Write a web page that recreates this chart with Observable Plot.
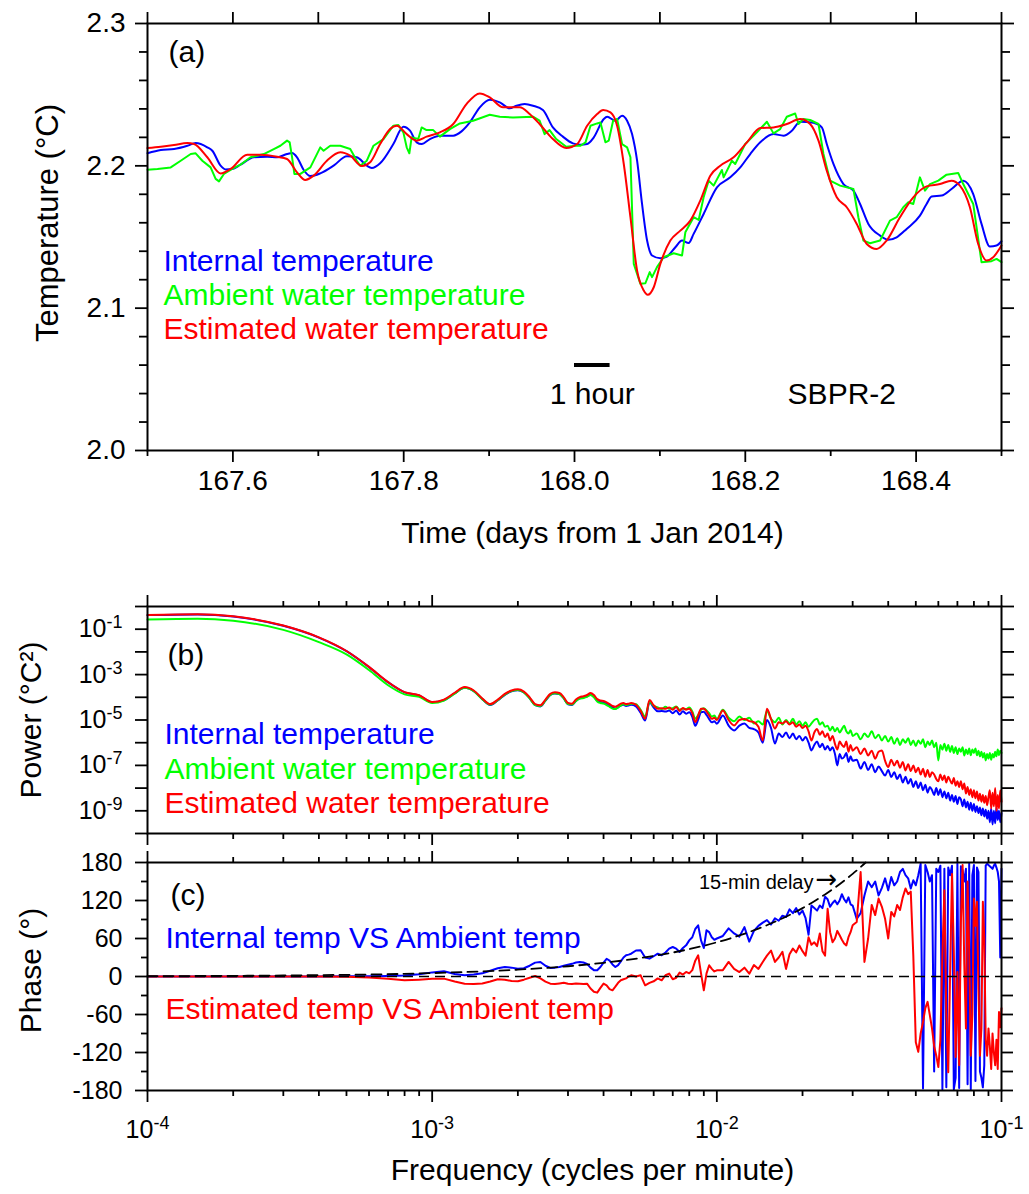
<!DOCTYPE html>
<html><head><meta charset="utf-8">
<script src="https://cdn.jsdelivr.net/npm/d3@7"></script>
<script src="https://cdn.jsdelivr.net/npm/@observablehq/plot@0.6"></script>
<style>
html,body{margin:0;padding:0;background:#fff;}
#wrap{position:relative;width:1029px;height:1194px;overflow:hidden;background:#fff;}
</style></head><body><div id="wrap"></div>
<script>
// ---------------- Panel (a): time series [day, °C] ----------------
const internalTemp = [
[167.500,2.2088],[167.5156,2.2111],[167.5311,2.2118],[167.5467,2.2141],[167.5564,2.2160],[167.5700,2.2130],
[167.5759,2.2106],[167.5856,2.2001],[167.5914,2.1975],[167.5992,2.1978],[167.6089,2.2008],[167.6245,2.2060],
[167.6401,2.2064],[167.6518,2.2060],[167.6634,2.2083],[167.6693,2.2090],[167.6751,2.2060],[167.6829,2.1971],
[167.6907,2.1928],[167.7023,2.1947],[167.7179,2.2001],[167.7335,2.2067],[167.7451,2.2060],[167.7568,2.2001],
[167.7626,2.1985],[167.7724,2.2018],[167.7879,2.2153],[167.7996,2.2275],[167.8074,2.2247],[167.8152,2.2165],
[167.8210,2.2153],[167.8307,2.2188],[167.8424,2.2212],[167.8580,2.2212],[167.8677,2.2242],[167.8774,2.2305],
[167.8891,2.2411],[167.9008,2.2464],[167.9125,2.2446],[167.9241,2.2404],[167.9319,2.2422],[167.9416,2.2434],
[167.9514,2.2422],[167.9630,2.2392],[167.9747,2.2270],[167.9864,2.2205],[167.9981,2.2158],
[168.0070,2.2149],[168.0148,2.2153],[168.0226,2.2200],[168.0343,2.2329],[168.0382,2.2345],[168.0479,2.2317],
[168.0557,2.2352],[168.0616,2.2317],[168.0674,2.2223],[168.0733,2.2036],[168.0791,2.1732],[168.0850,2.1475],
[168.0908,2.1370],[168.1005,2.1351],[168.1083,2.1363],[168.1181,2.1428],[168.1259,2.1475],[168.1337,2.1458],
[168.1395,2.1522],[168.1512,2.1662],[168.1668,2.1849],[168.1824,2.1919],[168.1941,2.1989],[168.2058,2.2083],
[168.2175,2.2165],[168.2330,2.2223],[168.2447,2.2212],[168.2545,2.2247],[168.2642,2.2310],[168.2798,2.2303],
[168.2896,2.2270],[168.2954,2.2153],[168.3032,2.2013],[168.3149,2.1872],[168.3266,2.1826],[168.3344,2.1732],
[168.3441,2.1592],[168.3578,2.1510],[168.3675,2.1480],[168.3772,2.1498],[168.3889,2.1557],[168.4045,2.1650],
[168.4123,2.1732],[168.4182,2.1784],[168.4299,2.1791],[168.4415,2.1837],[168.4552,2.1896],[168.4669,2.1802],
[168.4766,2.1592],[168.4864,2.1433],[168.4942,2.1440],[168.5000,2.1470]
];
const ambientTemp = [
[167.500,2.1973],[167.5117,2.1978],[167.5272,2.1989],[167.5389,2.2036],[167.5506,2.2083],[167.5564,2.2088],
[167.5642,2.2036],[167.5739,2.1989],[167.5798,2.1908],[167.5837,2.1891],[167.5895,2.1943],[167.5992,2.1978],
[167.6089,2.2008],[167.6206,2.2060],[167.6362,2.2083],[167.6479,2.2118],[167.6556,2.2141],[167.6634,2.2177],
[167.6665,2.2165],[167.6693,2.2060],[167.6720,2.1943],[167.6790,2.1943],[167.6907,2.1989],[167.7023,2.2130],
[167.7062,2.2106],[167.7140,2.2141],[167.7257,2.2141],[167.7374,2.2118],[167.7451,2.2036],[167.7490,2.2001],
[167.7568,2.2036],[167.7646,2.2141],[167.7763,2.2188],[167.7879,2.2282],[167.7938,2.2287],[167.7996,2.2235],
[167.8035,2.2130],[167.8066,2.2088],[167.8093,2.2200],[167.8171,2.2188],[167.8210,2.2270],[167.8268,2.2251],
[167.8346,2.2251],[167.8424,2.2205],[167.8463,2.2223],[167.8541,2.2258],[167.8658,2.2298],[167.8813,2.2317],
[167.9008,2.2359],[167.9125,2.2345],[167.9280,2.2340],[167.9514,2.2345],[167.9591,2.2317],[167.9650,2.2223],
[167.9708,2.2251],[167.9786,2.2188],[167.9903,2.2134],[168.0019,2.2141],
[168.0070,2.2141],[168.0129,2.2165],[168.0187,2.2282],[168.0265,2.2298],[168.0304,2.2305],[168.0362,2.2165],
[168.0401,2.2177],[168.0452,2.2317],[168.0499,2.2329],[168.0557,2.2153],[168.0616,2.2130],[168.0655,2.2060],
[168.0694,2.1311],[168.0772,2.1171],[168.0830,2.1175],[168.0881,2.1253],[168.0908,2.1218],[168.0966,2.1288],
[168.1044,2.1358],[168.1161,2.1386],[168.1259,2.1370],[168.1298,2.1533],[168.1395,2.1639],[168.1454,2.1620],
[168.1512,2.1779],[168.1571,2.1896],[168.1629,2.1861],[168.1726,2.1971],[168.1746,2.1919],[168.1843,2.2036],
[168.1882,2.2013],[168.1999,2.2153],[168.2136,2.2235],[168.2253,2.2310],[168.2330,2.2228],[168.2408,2.2258],
[168.2486,2.2345],[168.2584,2.2368],[168.2623,2.2294],[168.2681,2.2329],[168.2759,2.2322],[168.2857,2.2294],
[168.2915,2.2083],[168.2993,2.1896],[168.3110,2.1861],[168.3266,2.1837],[168.3324,2.1639],[168.3383,2.1475],
[168.3461,2.1456],[168.3578,2.1475],[168.3694,2.1615],[168.3772,2.1639],[168.3850,2.1709],[168.3909,2.1744],
[168.3967,2.1732],[168.4045,2.1919],[168.4104,2.1826],[168.4162,2.1872],[168.4260,2.1896],[168.4357,2.1938],
[168.4493,2.1950],[168.4552,2.1872],[168.4669,2.1732],[168.4766,2.1323],[168.4883,2.1330],[168.4942,2.1346],
[168.5000,2.1323]
];
const estimatedTemp = [
[167.500,2.2125],[167.5156,2.2134],[167.5311,2.2146],[167.5467,2.2160],[167.5545,2.2153],[167.5700,2.2060],
[167.5856,2.1947],[167.5973,2.1978],[167.6167,2.2078],[167.6323,2.2078],[167.6518,2.2064],[167.6634,2.2048],
[167.6751,2.1954],[167.6848,2.1901],[167.6946,2.1931],[167.7101,2.2036],[167.7257,2.2095],[167.7374,2.2071],
[167.7510,2.1999],[167.7607,2.2025],[167.7724,2.2153],[167.7840,2.2258],[167.7918,2.2282],[167.8035,2.2223],
[167.8152,2.2177],[167.8268,2.2205],[167.8424,2.2235],[167.8580,2.2294],[167.8735,2.2434],[167.8891,2.2509],
[167.9008,2.2481],[167.9163,2.2411],[167.9358,2.2411],[167.9475,2.2364],[167.9591,2.2294],[167.9747,2.2188],
[167.9903,2.2125],
[168.0031,2.2153],[168.0148,2.2282],[168.0265,2.2364],[168.0335,2.2392],[168.0421,2.2375],[168.0499,2.2282],
[168.0577,2.2013],[168.0655,2.1639],[168.0733,2.1264],[168.0811,2.1124],[168.0857,2.1094],[168.0928,2.1147],
[168.1005,2.1311],[168.1122,2.1475],[168.1239,2.1545],[168.1356,2.1615],[168.1473,2.1756],[168.1590,2.1931],
[168.1707,2.2001],[168.1863,2.2060],[168.2019,2.2165],[168.2175,2.2265],[168.2330,2.2270],[168.2486,2.2294],
[168.2642,2.2329],[168.2759,2.2294],[168.2857,2.2177],[168.2954,2.1966],[168.3071,2.1779],[168.3188,2.1709],
[168.3305,2.1592],[168.3422,2.1451],[168.3539,2.1416],[168.3655,2.1475],[168.3811,2.1639],[168.3967,2.1779],
[168.4123,2.1856],[168.4279,2.1872],[168.4415,2.1896],[168.4513,2.1861],[168.4630,2.1709],[168.4727,2.1451],
[168.4825,2.1335],[168.4903,2.1358],[168.5000,2.1440]
];
const tempMajorTicks = [2.0, 2.1, 2.2, 2.3];
const tempMinorTicks = [2.02,2.04,2.06,2.08,2.12,2.14,2.16,2.18,2.22,2.24,2.26,2.28];
const timeMajorTicks = [167.6, 167.8, 168.0, 168.2, 168.4];
const timeMinorTicks = [167.5, 167.7, 167.9, 168.1, 168.3, 168.5];

// ---------------- Panels (b) and (c): spectra on a shared frequency grid (cycles per minute) -------------
const freq = [
0.0001,0.00015,0.0002,0.0003,0.0004,0.0005,0.0006,0.0007,0.0008,0.0009,0.001,
0.0011,0.0012,0.0013,0.0014,0.0015,0.0016,0.0017,0.0018,0.0019,0.0020,
0.0021,0.0022,0.0023,0.0024,0.0025,0.0026,0.0027,0.0028,0.0029,0.0030,
0.0031,0.0032,0.0033,0.0034,0.0035,0.0036,0.0037,0.0038,0.0039,0.0040,
0.0041,0.0042,0.0043,0.0044,0.0045,0.0046,0.0047,0.0048,0.0049,0.0050,
0.0052,0.0054,0.0056,0.0058,0.0060,0.0062,0.0064,0.0066,0.0068,0.0070,
0.0072,0.0074,0.0076,0.0078,0.0080,0.0082,0.0084,0.0086,0.0088,0.0090,
0.0092,0.0094,0.0096,0.0098,0.0100,
0.0105,0.0110,0.0115,0.0120,0.0125,0.0130,0.0135,0.0140,0.0145,0.0150,
0.0155,0.0160,0.0165,0.0170,0.0175,0.0180,0.0185,0.0190,0.0195,0.0200,
0.0205,0.0210,0.0215,0.0220,0.0225,0.0230,0.0235,0.0240,0.0245,0.0250,
0.0255,0.0260,0.0265,0.0270,0.0275,0.0280,0.0285,0.0290,0.0295,0.0300,
0.031,0.032,0.033,0.034,0.035,0.036,0.037,0.038,0.039,0.040,
0.041,0.042,0.043,0.044,0.045,0.046,0.047,0.048,0.049,0.050,
0.051,0.052,0.053,0.054,0.055,0.056,0.057,0.058,0.059,0.060,
0.061,0.062,0.063,0.064,0.065,0.066,0.067,0.068,0.069,0.070,
0.071,0.072,0.073,0.074,0.075,0.076,0.077,0.078,0.079,0.080,
0.081,0.082,0.083,0.084,0.085,0.086,0.087,0.088,0.089,0.090,
0.091,0.092,0.093,0.094,0.095,0.096,0.097,0.098,0.099,0.100
];
// power spectra, stored as log10(°C²)
const log10PowerInternal = [
-0.38,-0.35,-0.44,-0.85,-1.37,-1.97,-2.67,-3.34,-3.78,-3.92,-4.22,
-4.13,-3.83,-3.58,-3.73,-4.08,-4.34,-4.14,-3.89,-3.74,-3.69,
-3.79,-4.04,-4.34,-4.40,-4.15,-3.90,-3.83,-3.86,-4.05,-4.31,
-4.34,-4.16,-4.05,-4.01,-3.96,-3.88,-3.97,-4.15,-4.21,-4.23,
-4.29,-4.37,-4.46,-4.50,-4.44,-4.36,-4.33,-4.38,-4.36,-4.33,
-4.40,-4.68,-5.02,-4.22,-4.45,-4.62,-4.60,-4.63,-4.58,-4.70,
-4.58,-4.76,-4.62,-4.72,-4.66,-4.86,-5.25,-4.98,-4.66,-4.64,
-4.78,-4.96,-5.10,-5.06,-5.16,
-4.80,-5.25,-5.46,-5.25,-5.15,-5.35,-5.40,-5.55,-6.00,-5.00,
-5.35,-6.04,-5.60,-5.75,-5.55,-5.80,-5.60,-5.85,-5.70,-5.90,
-5.75,-6.00,-6.34,-6.10,-5.95,-6.20,-6.05,-6.30,-6.15,-6.34,
-6.20,-6.50,-7.00,-6.50,-6.70,-6.63,-6.45,-6.85,-6.60,-6.80,
-6.75,-7.14,-6.85,-7.20,-6.95,-7.30,-7.05,-7.25,-7.45,-7.20,
-7.51,-7.30,-7.60,-7.40,-7.75,-7.50,-7.80,-7.60,-7.95,-7.70,
-8.00,-7.75,-8.10,-7.85,-8.20,-7.95,-8.09,-8.30,-8.00,-8.30,
-8.05,-8.40,-8.15,-8.45,-8.20,-8.55,-8.30,-8.60,-8.35,-8.70,
-8.40,-8.50,-8.80,-8.50,-8.85,-8.60,-8.95,-8.65,-9.00,-8.70,
-9.05,-8.80,-9.10,-8.85,-9.20,-8.90,-9.25,-8.95,-9.35,-9.00,
-9.50,-8.90,-9.60,-9.00,-9.55,-8.85,-9.40,-9.00,-9.50,-9.10
];
const log10PowerAmbient = [
-0.57,-0.54,-0.63,-1.03,-1.57,-2.11,-2.80,-3.47,-3.87,-3.98,-4.25,
-4.14,-3.84,-3.58,-3.73,-4.08,-4.32,-4.13,-3.88,-3.73,-3.68,
-3.79,-4.05,-4.34,-4.38,-4.14,-3.89,-3.82,-3.86,-4.05,-4.30,
-4.32,-4.16,-4.06,-4.03,-3.98,-3.90,-4.00,-4.18,-4.25,-4.28,
-4.34,-4.42,-4.50,-4.52,-4.45,-4.36,-4.30,-4.34,-4.32,-4.28,
-4.30,-4.55,-4.85,-4.20,-4.38,-4.45,-4.52,-4.42,-4.50,-4.48,
-4.40,-4.55,-4.50,-4.52,-4.45,-4.62,-4.95,-4.78,-4.55,-4.48,
-4.58,-4.70,-4.85,-4.80,-4.95,
-4.55,-4.90,-5.05,-4.85,-5.00,-4.90,-5.15,-5.05,-5.20,-4.60,
-4.95,-5.10,-4.90,-5.20,-5.00,-5.15,-4.95,-5.20,-5.05,-5.25,
-5.10,-5.30,-5.15,-5.00,-4.94,-5.20,-5.10,-5.30,-5.25,-5.46,
-5.30,-5.50,-5.35,-5.55,-5.40,-5.25,-5.50,-5.60,-5.45,-5.70,
-5.60,-5.85,-5.60,-5.75,-5.50,-5.80,-5.65,-5.90,-5.70,-5.95,
-5.75,-6.05,-5.80,-6.10,-5.85,-6.00,-5.80,-6.10,-5.90,-6.15,
-5.90,-6.05,-5.85,-6.20,-5.95,-6.10,-5.90,-6.20,-6.00,-6.78,
-6.10,-6.30,-6.05,-6.35,-6.10,-6.40,-6.15,-6.45,-6.20,-6.50,
-6.25,-6.40,-6.20,-6.56,-6.30,-6.50,-6.25,-6.55,-6.30,-6.45,
-6.25,-6.55,-6.35,-6.60,-6.40,-6.65,-6.45,-6.78,-6.50,-6.70,
-6.45,-6.75,-6.50,-6.65,-6.40,-6.60,-6.30,-6.55,-6.35,-6.45
];
const log10PowerEstimated = [
-0.37,-0.34,-0.43,-0.84,-1.36,-1.96,-2.66,-3.33,-3.77,-3.91,-4.21,
-4.10,-3.80,-3.55,-3.70,-4.05,-4.30,-4.10,-3.85,-3.70,-3.65,
-3.75,-4.00,-4.30,-4.35,-4.10,-3.85,-3.78,-3.81,-4.00,-4.25,
-4.28,-4.10,-3.99,-3.95,-3.90,-3.81,-3.90,-4.08,-4.14,-4.16,
-4.22,-4.30,-4.38,-4.42,-4.36,-4.28,-4.25,-4.30,-4.28,-4.25,
-4.33,-4.60,-4.94,-4.12,-4.35,-4.50,-4.48,-4.50,-4.45,-4.55,
-4.43,-4.60,-4.47,-4.55,-4.50,-4.70,-5.09,-4.80,-4.50,-4.50,
-4.62,-4.80,-4.95,-4.90,-5.00,
-4.58,-5.00,-5.24,-5.00,-4.96,-5.05,-5.10,-5.30,-5.90,-4.50,
-4.95,-5.38,-5.10,-5.15,-5.05,-5.20,-5.10,-5.30,-5.20,-5.35,
-5.25,-5.50,-5.90,-5.55,-5.40,-5.65,-5.50,-5.75,-5.60,-5.90,
-5.70,-6.05,-6.30,-5.95,-6.10,-6.19,-5.95,-6.40,-6.10,-6.35,
-6.20,-6.50,-6.25,-6.56,-6.35,-6.70,-6.40,-6.34,-6.80,-7.07,
-6.75,-7.00,-6.80,-7.10,-6.85,-7.22,-6.95,-7.25,-7.00,-7.30,
-7.10,-7.40,-7.15,-7.50,-7.20,-7.51,-7.30,-7.40,-7.60,-7.70,
-7.40,-7.65,-7.45,-7.75,-7.50,-7.66,-7.80,-7.55,-7.90,-7.70,
-7.95,-7.70,-8.05,-7.80,-8.24,-7.95,-8.30,-8.05,-8.40,-8.10,
-8.45,-8.15,-8.55,-8.25,-8.60,-8.30,-8.65,-8.35,-8.75,-8.40,
-8.10,-8.90,-8.20,-8.80,-8.00,-9.00,-8.30,-8.90,-8.10,-8.60
];
// phase (degrees)
const phaseInternal = [
0,0,0,0,0,0.2,0.5,0.8,1.5,3.5,6.5,
8.2,4,1.9,3,5,9,13,15,14,12.4,
13,17,21.9,23,17,13.5,14,15,17,18.7,
20,22,23,22,20,14,10,9.8,15,22,
28,25,19,15,18,24,30,33.5,34.5,36,
41,41.3,30,28.2,32,36,33.5,38,44,46.6,
44,38.7,45,49.2,57,62,75,80.7,57,45,
73,70,62,58,60,
64,76,68,63,78,55,72,80,85,89,
82,92,88,96,94,106,100,108,98,104,
92,66,112,108,104,112,108,126,122,110,
116,120,114,120,130,122,117,125,114,112,
91,100,128,150,141,150,128,140,155,136,
157,144,150,165,170,160,155,139,152,144,
160,178,-177,176,165,150,160,-150,170,165,
175,-178,170,-175,172,160,175,-178,-160,178,
-176,174,168,150,170,-170,178,-178,160,176,
-165,172,165,-150,-160,-175,-140,175,178,176,
174,172,170,175,178,172,165,150,30,170
];
const phaseEstimated = [
0,0,0,0,0,-0.5,-1.5,-3.5,-6,-5,-3.7,
-3.4,-8,-11.3,-12,-11,-8,-4.4,-5,-7,-7.6,
-5,-2,0.8,-3,-8,-11.3,-12,-11,-10,-11.3,
-12,-11,-11.3,-12,-11.3,-19,-24,-25.5,-18,-11.3,
-14,-20,-21.8,-16,-10,-6,-4.4,-3,0,1.9,
0,1.9,-13.9,-10,-7.6,-3,-6,2,4.5,-4.4,
-2,6.1,3,7.2,5,10,25,33.5,5,-21.8,
5,17.7,12,8,9.8,
10,23,12,7,14,4.5,18,12,23,33,
41,23,30,39,12,35,44,38,49,40,
33,62,50,54,48,68,40,33,107,70,
54,60,72,65,58,52,49,62,70,81,
86,165,23,60,113,97,123,110,91,60,
102,95,113,105,125,139,130,134,33,-104,
-119,-90,-72,-50,-40,-61,-82,-110,-125,-143,
-100,33,136,-60,-151,7,162,40,-127,7,
-140,86,176,20,-82,150,40,-125,-60,123,
80,118,-20,-125,-82,118,60,-100,-125,-82,
-110,-146,-90,-120,-140,-100,-146,-56,-80,-50
];
// phase of a pure 15-minute delay, [frequency, degrees]
const delayCurve = [
[0.0001,0.54],[0.0003,1.62],[0.001,5.4],[0.002,10.8],[0.003,16.2],[0.004,21.6],[0.005,27],
[0.006,32.4],[0.007,37.8],[0.008,43.2],[0.009,48.6],[0.010,54],[0.012,64.8],[0.014,75.6],
[0.016,86.4],[0.018,97.2],[0.020,108],[0.022,118.8],[0.024,129.6],[0.026,140.4],[0.028,151.2],
[0.030,162],[0.032,172.8],[0.03333,180]
];
const freqMajorTicks = [1e-4, 1e-3, 1e-2, 1e-1];
const freqMinorTicks = [2e-4,3e-4,4e-4,5e-4,6e-4,7e-4,8e-4,9e-4,2e-3,3e-3,4e-3,5e-3,6e-3,7e-3,8e-3,9e-3,2e-2,3e-2,4e-2,5e-2,6e-2,7e-2,8e-2,9e-2];
const powerDecadeTicks = [1,1e-1,1e-2,1e-3,1e-4,1e-5,1e-6,1e-7,1e-8,1e-9,1e-10];
const phaseMajorTicks = [-180,-120,-60,0,60,120,180];
const phaseMinorTicks = [-150,-90,-30,30,90,150];

// ---------------- rendering ----------------
const BLUE = "#0000ff", GREEN = "#00ff00", RED = "#ff0000";
const FONT = "'Liberation Sans', Arial, Helvetica, sans-serif";
const none = () => "";
const sci = d => "10^" + Math.round(Math.log10(d));
const lbl = (text, o) => Plot.text([text], {frameAnchor: "top-left", textAnchor: "start", lineAnchor: "bottom", fontSize: 30, ...o});
const ytitle = (text, dx, o = {}) => Plot.text([text], {frameAnchor: "left", rotate: -90, dx, textAnchor: "middle", lineAnchor: "bottom", fontSize: 30, ...o});
const ax = (k, o) => (k === "x" ? Plot.axisX : Plot.axisY)({label: null, strokeWidth: 1.8, tickFormat: none, ...o});

const rows = vals => freq.map((f, i) => ({f, v: vals[i]}));

const plotA = Plot.plot({
  width: 1029, height: 560, marginLeft: 147, marginRight: 28, marginTop: 23, marginBottom: 110,
  style: {fontFamily: FONT, fontSize: "28px", color: "black", background: "transparent"},
  x: {domain: [167.5, 168.5]},
  y: {domain: [2.0, 2.3]},
  marks: [
    Plot.line(internalTemp, {x: d => d[0], y: d => d[1], stroke: BLUE, strokeWidth: 2, curve: "monotone-x"}),
    Plot.line(ambientTemp, {x: d => d[0], y: d => d[1], stroke: GREEN, strokeWidth: 2}),
    Plot.line(estimatedTemp, {x: d => d[0], y: d => d[1], stroke: RED, strokeWidth: 2, curve: "monotone-x"}),
    Plot.ruleY([2.06], {x1: 168.0, x2: 168.0 + 1 / 24, stroke: "black", strokeWidth: 4}),
    Plot.text(["1 hour"], {x: 168.0 + 1 / 48, y: 2.033, lineAnchor: "bottom", fontSize: 30}),
    Plot.text(["SBPR-2"], {x: 168.313, y: 2.033, lineAnchor: "bottom", fontSize: 30}),
    lbl("(a)", {dx: 21, dy: 38}),
    lbl("Internal temperature", {dx: 16, dy: 247, fill: BLUE}),
    lbl("Ambient water temperature", {dx: 16, dy: 281, fill: GREEN}),
    lbl("Estimated water temperature", {dx: 16, dy: 315, fill: RED}),
    Plot.frame({stroke: "black", strokeWidth: 2}),
    ax("y", {anchor: "left", ticks: tempMajorTicks, tickSize: 12, tickPadding: 10, tickFormat: d3.format(".1f")}),
    ax("y", {anchor: "left", ticks: tempMinorTicks, tickSize: 8}),
    ax("y", {anchor: "right", ticks: tempMajorTicks, tickSize: 12}),
    ax("y", {anchor: "right", ticks: tempMinorTicks, tickSize: 8}),
    ax("x", {anchor: "bottom", ticks: timeMajorTicks, tickSize: 12, tickPadding: 8, tickFormat: d3.format(".1f")}),
    ax("x", {anchor: "bottom", ticks: timeMinorTicks, tickSize: 6}),
    ax("x", {anchor: "top", ticks: timeMajorTicks.concat(timeMinorTicks), tickSize: 12}),
    ytitle("Temperature (°C)", -90, {dy: -14, fontSize: 31}),
    Plot.text(["Time (days from 1 Jan 2014)"], {frameAnchor: "bottom", dx: 18, dy: 92, lineAnchor: "bottom", fontSize: 30})
  ]
});

const plotB = Plot.plot({
  width: 1029, height: 290, marginLeft: 147, marginRight: 28, marginTop: 46, marginBottom: 17,
  style: {fontFamily: FONT, fontSize: "25px", color: "black", background: "transparent"},
  x: {type: "log", domain: [1e-4, 1e-1]},
  y: {type: "log", domain: [1e-10, 1]},
  marks: [
    Plot.line(rows(log10PowerInternal), {x: "f", y: d => 10 ** d.v, stroke: BLUE, strokeWidth: 2, curve: "monotone-x"}),
    Plot.line(rows(log10PowerAmbient), {x: "f", y: d => 10 ** d.v, stroke: GREEN, strokeWidth: 2, curve: "monotone-x"}),
    Plot.line(rows(log10PowerEstimated), {x: "f", y: d => 10 ** d.v, stroke: RED, strokeWidth: 2, curve: "monotone-x"}),
    lbl("(b)", {dx: 20, dy: 58}),
    lbl("Internal temperature", {dx: 17, dy: 137, fill: BLUE}),
    lbl("Ambient water temperature", {dx: 17, dy: 172, fill: GREEN}),
    lbl("Estimated water temperature", {dx: 17, dy: 206, fill: RED}),
    Plot.frame({stroke: "black", strokeWidth: 2}),
    ax("y", {anchor: "left", ticks: powerDecadeTicks, tickSize: 12, tickPadding: 13,
      tickFormat: d => (Math.round(Math.log10(d)) % 2 ? sci(d) : "")}),
    ax("y", {anchor: "right", ticks: powerDecadeTicks, tickSize: 12}),
    ax("x", {anchor: "top", ticks: freqMajorTicks, tickSize: 12}),
    ax("x", {anchor: "top", ticks: freqMinorTicks, tickSize: 6}),
    ax("x", {anchor: "bottom", ticks: freqMajorTicks, tickSize: 12}),
    ax("x", {anchor: "bottom", ticks: freqMinorTicks, tickSize: 6}),
    ytitle("Power (°C²)", -107)
  ]
});

const plotC = Plot.plot({
  width: 1029, height: 344, marginLeft: 147, marginRight: 28, marginTop: 12, marginBottom: 104,
  style: {fontFamily: FONT, fontSize: "25px", color: "black", background: "transparent"},
  x: {type: "log", domain: [1e-4, 1e-1]},
  y: {domain: [-180, 180]},
  marks: [
    Plot.line(rows(phaseInternal), {x: "f", y: "v", stroke: BLUE, strokeWidth: 2}),
    Plot.line(rows(phaseEstimated), {x: "f", y: "v", stroke: RED, strokeWidth: 2}),
    Plot.ruleY([0], {stroke: "black", strokeWidth: 1.6, strokeDasharray: "10,6"}),
    Plot.line(delayCurve, {x: d => d[0], y: d => d[1], stroke: "black", strokeWidth: 1.8, strokeDasharray: "10,6", curve: "monotone-x"}),
    lbl("(c)", {dx: 23, dy: 42}),
    lbl("Internal temp VS Ambient temp", {dx: 18, dy: 85, fill: BLUE}),
    lbl("Estimated temp VS Ambient temp", {dx: 18, dy: 156, fill: RED}),
    lbl("15-min delay", {dx: 666, dy: 26, textAnchor: "end", fontSize: 20}),
    lbl("→", {dx: 668, dy: 25, fontSize: 26, fontFamily: "'DejaVu Sans', sans-serif"}),
    Plot.frame({stroke: "black", strokeWidth: 2}),
    ax("y", {anchor: "left", ticks: phaseMajorTicks, tickSize: 12, tickPadding: 13, tickFormat: d => String(d)}),
    ax("y", {anchor: "left", ticks: phaseMinorTicks, tickSize: 6}),
    ax("y", {anchor: "right", ticks: phaseMajorTicks.concat(phaseMinorTicks), tickSize: 11}),
    ax("x", {anchor: "top", ticks: freqMajorTicks, tickSize: 12}),
    ax("x", {anchor: "top", ticks: freqMinorTicks, tickSize: 6}),
    ax("x", {anchor: "bottom", ticks: freqMajorTicks, tickSize: 12, tickPadding: 18, tickFormat: sci}),
    ax("x", {anchor: "bottom", ticks: freqMinorTicks, tickSize: 6}),
    ytitle("Phase (°)", -107, {dy: -6}),
    Plot.text(["Frequency (cycles per minute)"], {frameAnchor: "bottom", dx: 18, dy: 89, lineAnchor: "bottom", fontSize: 30})
  ]
});

function superscripts(svg) {
  for (const t of svg.querySelectorAll("text")) {
    const m = /^10\^(-?\d+)$/.exec(t.textContent.trim());
    if (!m) continue;
    t.textContent = "10";
    const s = document.createElementNS("http://www.w3.org/2000/svg", "tspan");
    s.setAttribute("font-size", "0.72em");
    s.setAttribute("dy", "-0.5em");
    s.textContent = m[1];
    t.appendChild(s);
  }
}
superscripts(plotB);
superscripts(plotC);

const wrap = document.getElementById("wrap");
[[plotA, 0], [plotB, 560], [plotC, 850]].forEach(([svg, top]) => {
  svg.style.position = "absolute";
  svg.style.left = "0px";
  svg.style.top = top + "px";
  svg.style.overflow = "visible";
  wrap.appendChild(svg);
});
</script></body></html>
